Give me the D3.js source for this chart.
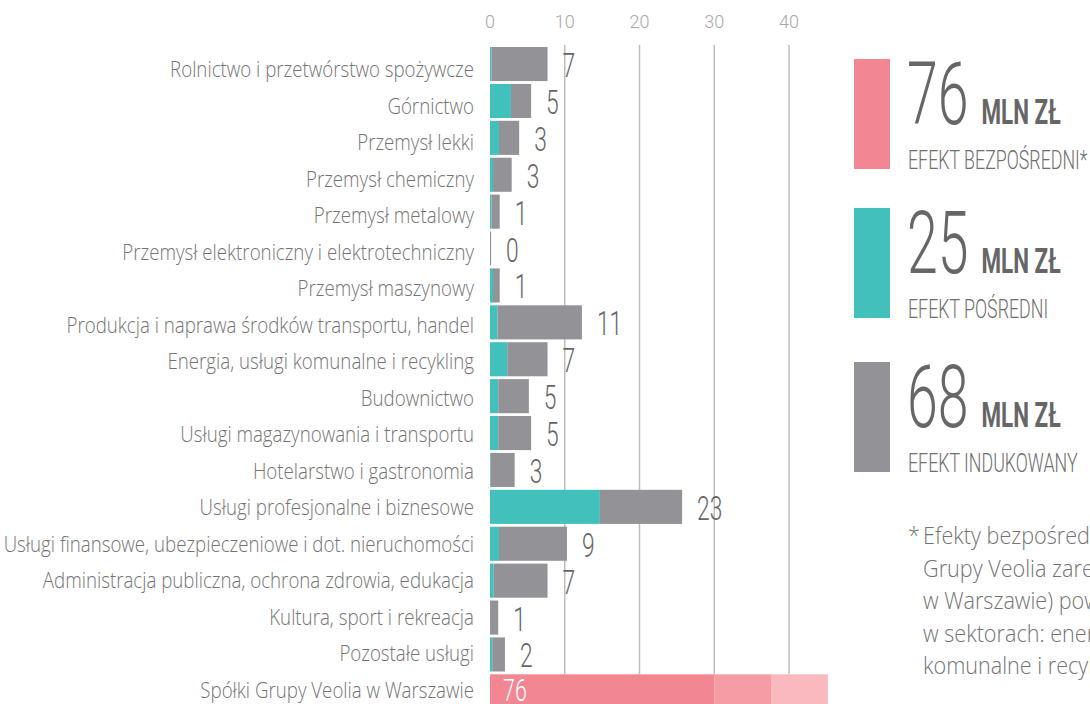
<!DOCTYPE html>
<html lang="pl">
<head>
<meta charset="UTF-8">
<title>Efekty Grupy Veolia w Warszawie</title>
<script src="https://cdn.jsdelivr.net/npm/d3@7"></script>
<style>
  body { margin: 0; background: #fff; overflow: hidden; }
  svg { display: block; }
</style>
</head>
<body>
<svg width="1090" height="704"></svg>
<script>

    // dane sektorów (mln zł)
    var categories = [
        "Rolnictwo i przetwórstwo spożywcze",
        "Górnictwo",
        "Przemysł lekki",
        "Przemysł chemiczny",
        "Przemysł metalowy",
        "Przemysł elektroniczny i elektrotechniczny",
        "Przemysł maszynowy",
        "Produkcja i naprawa środków transportu, handel",
        "Energia, usługi komunalne i recykling",
        "Budownictwo",
        "Usługi magazynowania i transportu",
        "Hotelarstwo i gastronomia",
        "Usługi profesjonalne i biznesowe",
        "Usługi finansowe, ubezpieczeniowe i dot. nieruchomości",
        "Administracja publiczna, ochrona zdrowia, edukacja",
        "Kultura, sport i rekreacja",
        "Pozostałe usługi",
        "Spółki Grupy Veolia w Warszawie"
    ];
    var indirect = [0.2, 2.8, 1.2, 0.4, 0.2, 0, 0.4, 1.0, 2.3, 1.1, 1.1, 0.1, 14.7, 1.2, 0.5, 0, 0.3];
    var induced  = [7.5, 2.7, 2.7, 2.5, 1.1, 0.15, 0.9, 11.3, 5.4, 4.1, 4.4, 3.2, 11.0, 9.1, 7.2, 1.1, 1.7];
    var valueLabels = ["7", "5", "3", "3", "1", "0", "1", "11", "7", "5", "5", "3", "23", "9", "7", "1", "2"];

    // efekt bezpośredni - pasek skrócony (przerwany)
    var directTotal = 76;
    var directSegments = [30, 7.6, 7.6];
    var directColors = ["#f28793", "#f59ca4", "#f9b9be"];

    var ticks = [0, 10, 20, 30, 40];

    // legenda
    var legendValues = [76, 25, 68];
    var legendNames = ["EFEKT BEZPOŚREDNI*", "EFEKT POŚREDNI", "EFEKT INDUKOWANY"];
    var legendColors = ["#f28793", "#42c0bc", "#939397"];

    var footnote = [
        "Efekty bezpośrednie (działalność spółek",
        "Grupy Veolia zarejestrowanych",
        "w Warszawie) powstają głównie",
        "w sektorach: energia, usługi",
        "komunalne i recykling."
    ];

    var teal = "#42c0bc", grey = "#939397";

    var svg = d3.select("svg");

    var x = d3.scaleLinear().domain([0, 40]).range([490, 789]);
    var y = d3.scaleBand()
        .domain(categories)
        .range([45.6, 709.8])
        .paddingInner(0.076)
        .paddingOuter(0.038);
    // etykiety kategorii leżą na nieco gęstszej siatce niż paski
    var yl = d3.scalePoint().domain(categories).range([69, 690]);

    var bw = y.bandwidth();
    var lastRow = categories[categories.length - 1];

    // tekst zwężony (czcionka kondensowana)
    function narrow(sel, tx, ty, sx) {
        return sel.attr("transform", "translate(" + tx + "," + ty + ") scale(" + sx + ",1)");
    }

    // siatka
    svg.append("g")
        .selectAll("line")
        .data(ticks.slice(1))
        .enter().append("line")
        .attr("x1", function(d) { return x(d); })
        .attr("x2", function(d) { return x(d); })
        .attr("y1", 45)
        .attr("y2", y(lastRow))
        .attr("stroke", "#bdbdbd")
        .attr("stroke-width", 1.5);

    // oś górna
    svg.append("g")
        .selectAll("text")
        .data(ticks)
        .enter().append("text")
        .attr("x", function(d) { return x(d); })
        .attr("y", 28)
        .attr("text-anchor", "middle")
        .style("font-family", "Roboto")
        .style("font-weight", 300)
        .style("font-size", "18px")
        .attr("fill", "#a8a8a8")
        .text(function(d) { return d; });

    var rows = categories.slice(0, 17).map(function(c, i) {
        return { cat: c, ind: indirect[i], indu: induced[i], label: valueLabels[i] };
    });

    // paski: efekt pośredni
    svg.append("g")
        .selectAll("rect")
        .data(rows)
        .enter().append("rect")
        .attr("x", x(0))
        .attr("y", function(d) { return y(d.cat); })
        .attr("width", function(d) { return x(d.ind) - x(0); })
        .attr("height", bw)
        .attr("fill", teal);

    // paski: efekt indukowany
    svg.append("g")
        .selectAll("rect")
        .data(rows)
        .enter().append("rect")
        .attr("x", function(d) { return x(d.ind); })
        .attr("y", function(d) { return y(d.cat); })
        .attr("width", function(d) { return x(d.ind + d.indu) - x(d.ind); })
        .attr("height", bw)
        .attr("fill", grey);

    // wartości
    svg.append("g")
        .selectAll("text")
        .data(rows)
        .enter().append("text")
        .each(function(d) {
            narrow(d3.select(this), x(d.ind + d.indu) + 15, y(d.cat) + bw / 2 + 13, 0.67);
        })
        .style("font-family", "Roboto")
        .style("font-weight", 300)
        .style("font-size", "34px")
        .attr("fill", "#666")
        .text(function(d) { return d.label; });

    // pasek efektu bezpośredniego
    var segs = [];
    var acc = 0;
    directSegments.forEach(function(v, i) {
        segs.push({ x0: acc, x1: acc + v, color: directColors[i] });
        acc += v;
    });
    svg.append("g")
        .selectAll("rect")
        .data(segs)
        .enter().append("rect")
        .attr("x", function(d) { return x(d.x0); })
        .attr("y", y(lastRow))
        .attr("width", function(d) { return x(d.x1) - x(d.x0); })
        .attr("height", bw)
        .attr("fill", function(d) { return d.color; });

    narrow(svg.append("text"), x(0) + 13, y(lastRow) + bw / 2 + 9.5, 0.67)
        .style("font-family", "Roboto")
        .style("font-weight", 300)
        .style("font-size", "32px")
        .attr("fill", "#fff")
        .text(directTotal);

    // etykiety kategorii
    svg.append("g")
        .selectAll("text")
        .data(categories)
        .enter().append("text")
        .each(function(d) {
            narrow(d3.select(this), 474, yl(d) + 8, 0.85);
        })
        .attr("text-anchor", "end")
        .style("font-family", "'Open Sans'")
        .style("font-weight", 300)
        .style("font-size", "22px")
        .attr("fill", "#737373")
        .text(function(d) { return d; });

    // legenda
    var legendTops = [59, 208, 362];
    var lg = svg.append("g")
        .selectAll("g")
        .data(legendValues)
        .enter().append("g")
        .attr("transform", function(d, i) { return "translate(854," + legendTops[i] + ")"; });

    lg.append("rect")
        .attr("width", 36)
        .attr("height", 110)
        .attr("fill", function(d, i) { return legendColors[i]; });

    lg.each(function(d, i) {
        var g = d3.select(this);
        var num = narrow(g.append("text"), 53, 65, 0.63)
            .style("font-family", "Roboto")
            .style("font-weight", 300)
            .style("font-size", "88px")
            .attr("fill", "#666")
            .text(d);
        var w = num.node().getComputedTextLength() * 0.63;
        narrow(g.append("text"), 53 + w + 13, 65, 0.64)
            .style("font-family", "Roboto")
            .style("font-weight", 700)
            .style("font-size", "35px")
            .attr("fill", "#666")
            .text("MLN ZŁ");
        narrow(g.append("text"), 54, 110, 0.685)
            .style("font-family", "Roboto")
            .style("font-weight", 300)
            .style("font-size", "26px")
            .attr("fill", "#6e6e6e")
            .text(legendNames[i]);
    });

    // przypis
    var fn = svg.append("g");
    narrow(fn.append("text"), 908, 544, 0.94)
        .style("font-family", "'Open Sans'")
        .style("font-weight", 300)
        .style("font-size", "23px")
        .attr("fill", "#737373")
        .text("*");
    fn.selectAll("text.line")
        .data(footnote)
        .enter().append("text")
        .attr("class", "line")
        .each(function(d, i) {
            narrow(d3.select(this), 923, 544 + i * 32.5, 0.94);
        })
        .style("font-family", "'Open Sans'")
        .style("font-weight", 300)
        .style("font-size", "23px")
        .attr("fill", "#737373")
        .text(function(d) { return d; });

</script>
</body>
</html>
